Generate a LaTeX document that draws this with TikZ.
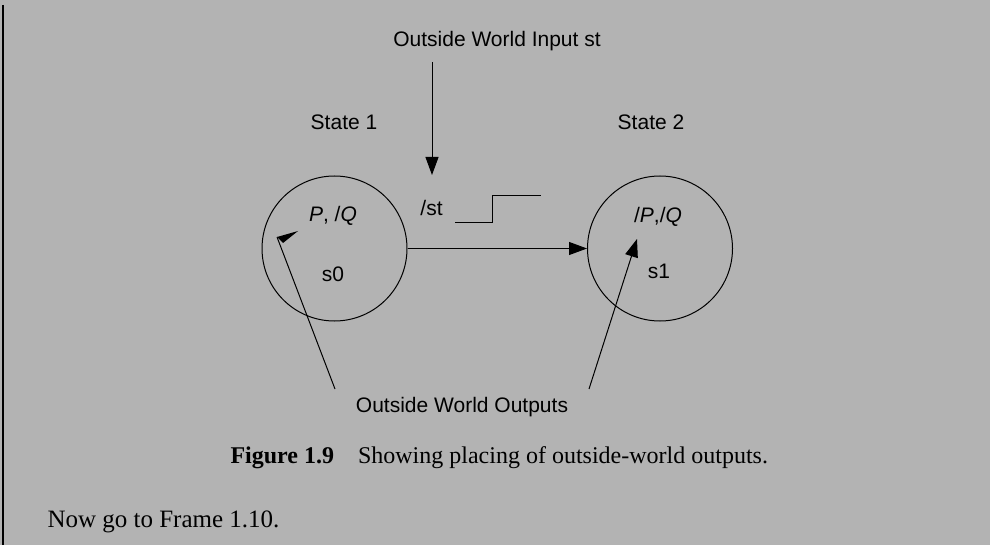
\documentclass[tikz,border=0pt]{standalone}
\usepackage{fontspec}
\setmainfont{Liberation Serif}
\setsansfont{Liberation Sans}
\usetikzlibrary{arrows.meta}
\definecolor{pagegrey}{HTML}{B3B3B3}
\tikzset{
  state/.style={draw, circle, minimum size=145pt, inner sep=0pt},
  lbl/.style={font=\sffamily\fontsize{21}{24}\selectfont, inner sep=0pt, anchor=base},
  arr/.style={-{Triangle[length=18pt,width=13pt]}},
  body/.style={font=\fontsize{24}{28}\selectfont, inner sep=0pt, anchor=base west}
}
\begin{document}
\begin{tikzpicture}[x=1pt, y=-1pt, line width=1pt]
\fill[pagegrey] (0,0) rectangle (990,545);
\useasboundingbox (0,0) rectangle (990,545);
\draw[line width=2.4pt] (3,5) -- (3,545);
% states
\node[state] (s0) at (334.5,248.5) {};
\node[state] (s1) at (660,248.5) {};
\node[lbl] (t1) at (344,130) {State 1};
\node[lbl] (t2) at (651,130) {State 2};
\node[lbl] (o0) at (333,222) {\itshape P\upshape, /\itshape Q};
\node[lbl] (o1) at (658,223) {/\itshape P\upshape,/\itshape Q};
\node[lbl] (n0) at (333,282) {s0};
\node[lbl] (n1) at (659,279) {s1};
% input
\node[lbl] (in) at (497,47) {Outside World Input st};
\coordinate (intop) at (432,62);
\coordinate (inend) at (432,175);
\draw[arr] (intop) -- (inend);
\node[lbl] (st) at (431.5,216) {/st};
\draw (455,223) -- (492,223) -- (492,196) -- (541,196);
\draw[arr] (s0) -- (s1);
% outputs
\node[lbl] (out) at (462,412) {Outside World Outputs};
\coordinate (p0) at (335,389);
\coordinate (q0) at (277,237);
\coordinate (p1) at (589,389);
\coordinate (q1) at (637,239);
\draw (p0) -- (q0);
\fill (q0) -- (298,231) -- (283,243) -- cycle;
\draw[arr] (p1) -- (q1);
% caption
\node[body] (cap) at (230,463)
  {\textbf{Figure 1.9}\hspace{24pt}Showing placing of outside-world outputs.};
\node[body, font=\fontsize{25}{28}\selectfont] (next) at (47,527)
  {Now go to Frame 1.10.};
\end{tikzpicture}
\end{document}
